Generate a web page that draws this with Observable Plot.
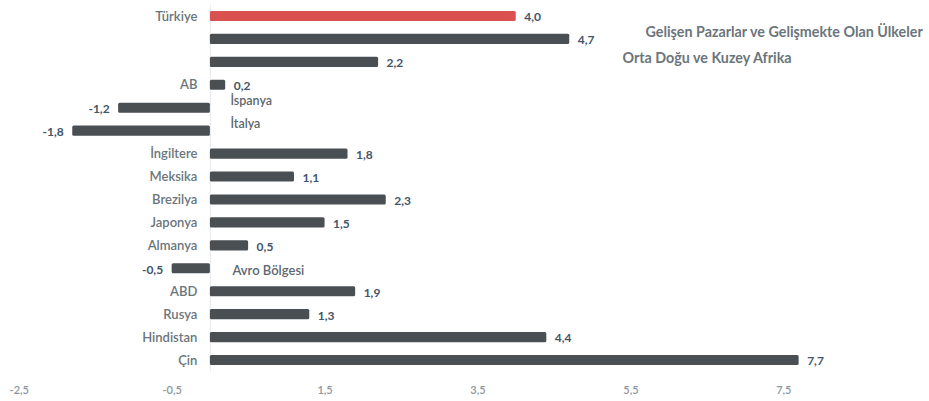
<!DOCTYPE html>
<html>
<head>
<meta charset="utf-8">
<script src="https://cdn.jsdelivr.net/npm/d3@7"></script>
<script src="https://cdn.jsdelivr.net/npm/@observablehq/plot@0.6"></script>
<style>
  html, body { margin: 0; padding: 0; background: #fff; }
  #chart { width: 929px; height: 401px; }
</style>
</head>
<body>
<div id="chart"></div>
<script>
// ---- data ----
const categories = [
  "Türkiye",
  "Gelişen Pazarlar ve Gelişmekte Olan Ülkeler",
  "Orta Doğu ve Kuzey Afrika",
  "AB",
  "İspanya",
  "İtalya",
  "İngiltere",
  "Meksika",
  "Brezilya",
  "Japonya",
  "Almanya",
  "Avro Bölgesi",
  "ABD",
  "Rusya",
  "Hindistan",
  "Çin"
];
const values = [4.0, 4.7, 2.2, 0.2, -1.2, -1.8, 1.8, 1.1, 2.3, 1.5, 0.5, -0.5, 1.9, 1.3, 4.4, 7.7];
const highlight = ["Türkiye"];
const xTicks = [-2.5, -0.5, 1.5, 3.5, 5.5, 7.5];

// label placement for categories whose name is not drawn left of the axis
const farLabels = {
  "Gelişen Pazarlar ve Gelişmekte Olan Ülkeler": 5.69,
  "Orta Doğu ve Kuzey Afrika": 5.39
};

const data = categories.map((c, i) => ({category: c, value: values[i]}));
const fmt = v => v.toFixed(1).replace(".", ",");

const leftLabels = data.filter(d => d.value >= 0 && farLabels[d.category] === undefined);
const innerAbove = data.filter(d => d.value < 0 && d.category !== "Avro Bölgesi");
const innerSame = data.filter(d => d.category === "Avro Bölgesi");
const outerLabels = data.filter(d => farLabels[d.category] !== undefined).map(d => ({...d, lx: farLabels[d.category]}));
const pos = data.filter(d => d.value >= 0);
const neg = data.filter(d => d.value < 0);

const font = "Lato, 'Open Sans', sans-serif";

const chart = Plot.plot({
  width: 929,
  height: 401,
  marginLeft: 0,
  marginRight: 0,
  marginTop: 4.5,
  marginBottom: 29.5,
  style: {fontFamily: font, background: "#fff", overflow: "visible"},
  x: {domain: [-2.745, 9.405], axis: null},
  y: {domain: categories, paddingInner: 0.56, paddingOuter: 0.28, round: false, axis: null},
  marks: [
    Plot.ruleX([0], {stroke: "#e6eaec", strokeWidth: 1}),
    Plot.barX(data, {
      x: "value", y: "category", rx: 1.5,
      fill: d => highlight.includes(d.category) ? "#d9514f" : "#4a4f54"
    }),
    // category labels to the left of zero
    Plot.text(leftLabels, {
      x: 0, y: "category", text: "category", textAnchor: "end", dx: -13,
      fill: "#6b757c", fontSize: 13, fontWeight: 600
    }),
    // category labels for negative bars, right of zero
    Plot.text(innerAbove, {
      x: 0, y: "category", text: "category", textAnchor: "start", dx: 20, dy: -7,
      fill: "#5d676e", fontSize: 12.5, fontWeight: 600
    }),
    Plot.text(innerSame, {
      x: 0, y: "category", text: "category", textAnchor: "start", dx: 22, dy: 2,
      fill: "#5d676e", fontSize: 13, fontWeight: 600
    }),
    // far labels
    Plot.text(outerLabels.slice(0, 1), {
      x: "lx", y: "category", text: "category", textAnchor: "start", dy: -7,
      fill: "#6b757c", fontSize: 14.3, fontWeight: 700
    }),
    Plot.text(outerLabels.slice(1), {
      x: "lx", y: "category", text: "category", textAnchor: "start", dy: -4,
      fill: "#6b757c", fontSize: 14.3, fontWeight: 700
    }),
    // value labels
    Plot.text(pos, {
      x: "value", y: "category", text: d => fmt(d.value),
      textAnchor: "start", dx: 8, dy: 1,
      fill: "#44546a", fontSize: 12, fontWeight: 700
    }),
    Plot.text(neg, {
      x: "value", y: "category", text: d => fmt(d.value),
      textAnchor: "end", dx: -9, dy: 1,
      fill: "#44546a", fontSize: 12, fontWeight: 700
    }),
    // x axis
    Plot.axisX(xTicks, {
      tickSize: 0, tickPadding: 0, anchor: "bottom", dy: 14,
      tickFormat: fmt, fill: "#8b979e", fontSize: 11, fontWeight: 600
    })
  ]
});
document.getElementById("chart").appendChild(chart);
</script>
</body>
</html>
